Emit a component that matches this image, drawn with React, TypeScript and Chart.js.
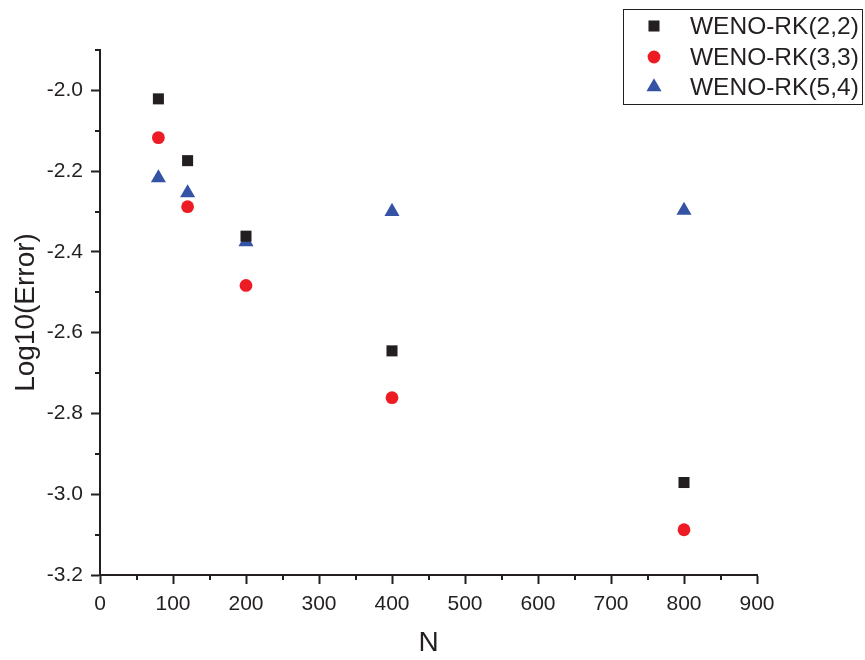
import React, { useEffect, useRef } from "react";
import { Chart, registerables } from "chart.js";

Chart.register(...registerables);

const xValues = [80, 120, 200, 400, 800];
const seriesLabels = ["WENO-RK(2,2)", "WENO-RK(3,3)", "WENO-RK(5,4)"];
const rk22 = [-2.021, -2.174, -2.361, -2.645, -2.971];
const rk33 = [-2.117, -2.288, -2.483, -2.761, -3.088];
const rk54 = [-2.217, -2.254, -2.375, -2.300, -2.297];
const xTickStep = 100;
const yTickStep = 0.2;
const xRange = [0, 900];
const yRange = [-3.2, -1.9];
const xTitle = "N";
const yTitle = "Log10(Error)";

const INK = "#231f20";
const FONT = "'Liberation Sans', Arial, Helvetica, sans-serif";

const colors = ["#231f20", "#ed1c24", "#3553a5"];
const styles = ["rect", "circle", "triangle"];
const radii = [7.8, 6.4, 8.7];

function drawMarker(ctx: CanvasRenderingContext2D, style: string, x: number, y: number, r: number, color: string) {
  ctx.save();
  ctx.fillStyle = color;
  ctx.beginPath();
  if (style === "rect") {
    const s = Math.SQRT1_2 * r;
    ctx.rect(x - s, y - s, 2 * s, 2 * s);
  } else if (style === "circle") {
    ctx.arc(x, y, r, 0, Math.PI * 2);
  } else {
    let rad = 0;
    ctx.moveTo(x + Math.sin(rad) * r, y - Math.cos(rad) * r);
    rad += (2 * Math.PI) / 3;
    ctx.lineTo(x + Math.sin(rad) * r, y - Math.cos(rad) * r);
    rad += (2 * Math.PI) / 3;
    ctx.lineTo(x + Math.sin(rad) * r, y - Math.cos(rad) * r);
    ctx.closePath();
  }
  ctx.fill();
  ctx.restore();
}

const minorTicks = {
  id: "minorTicks",
  afterDraw(chart: any) {
    const ctx = chart.ctx as CanvasRenderingContext2D;
    const xs = chart.scales.x;
    const ys = chart.scales.y;
    ctx.save();
    ctx.strokeStyle = INK;
    ctx.lineWidth = 2;
    ctx.beginPath();
    for (let v = xRange[0] + xTickStep / 2; v <= xRange[1] + 1e-9; v += xTickStep) {
      const px = Math.round(xs.getPixelForValue(v));
      ctx.moveTo(px, xs.top);
      ctx.lineTo(px, xs.top + 5);
    }
    for (let k = 0; ; k++) {
      const v = yRange[0] + yTickStep / 2 + k * yTickStep;
      if (v > yRange[1] + 1e-9) break;
      const py = Math.round(ys.getPixelForValue(v));
      ctx.moveTo(ys.right, py);
      ctx.lineTo(ys.right - 5, py);
    }
    ctx.stroke();
    ctx.restore();
  },
};

const boxLegend = {
  id: "boxLegend",
  afterDraw(chart: any) {
    const ctx = chart.ctx as CanvasRenderingContext2D;
    ctx.save();
    ctx.strokeStyle = INK;
    ctx.lineWidth = 1;
    ctx.strokeRect(623.5, 9.5, 239, 95);
    ctx.font = `24.5px ${FONT}`;
    ctx.textBaseline = "middle";
    ctx.textAlign = "left";
    ctx.fillStyle = INK;
    const rows = [26, 57, 87];
    chart.data.datasets.forEach((ds: any, i: number) => {
      drawMarker(ctx, ds.pointStyle, 654, rows[i], ds.pointRadius, ds.backgroundColor);
      ctx.fillStyle = INK;
      ctx.fillText(ds.label, 690, rows[i] + 1);
    });
    ctx.restore();
  },
};

export default function App() {
  const ref = useRef<HTMLCanvasElement>(null);
  useEffect(() => {
    if (!ref.current) return;
    const series = [rk22, rk33, rk54];
    const chart = new Chart(ref.current, {
      type: "scatter",
      data: {
        datasets: series.map((vals, i) => ({
          label: seriesLabels[i],
          data: xValues.map((x, j) => ({ x, y: vals[j] })),
          pointStyle: styles[i] as any,
          pointRadius: radii[i],
          pointHoverRadius: radii[i],
          pointBorderWidth: 0,
          backgroundColor: colors[i],
          borderColor: colors[i],
          showLine: false,
        })),
      },
      options: {
        responsive: false,
        animation: false,
        events: [],
        layout: { padding: { top: 50, right: 108, left: 0, bottom: 0 } },
        plugins: {
          legend: { display: false },
          tooltip: { enabled: false },
        },
        scales: {
          x: {
            type: "linear",
            min: xRange[0],
            max: xRange[1],
            afterFit: (s: any) => {
              s.height = 85;
            },
            ticks: {
              stepSize: xTickStep,
              includeBounds: false,
              color: INK,
              padding: 8,
              font: { family: FONT, size: 21 },
              maxRotation: 0,
            },
            grid: {
              drawOnChartArea: false,
              drawTicks: true,
              tickLength: 9,
              tickColor: INK,
              tickWidth: 2,
            },
            border: { display: true, color: INK, width: 2 },
            title: {
              display: true,
              text: xTitle,
              color: INK,
              font: { family: FONT, size: 28 },
              padding: { top: 0, bottom: 0 },
            },
          },
          y: {
            type: "linear",
            min: yRange[0],
            max: yRange[1],
            afterFit: (s: any) => {
              s.width = 100;
            },
            ticks: {
              stepSize: yTickStep,
              includeBounds: false,
              color: INK,
              padding: 8,
              font: { family: FONT, size: 21 },
              callback: (v: any) => Number(v).toFixed(1),
            },
            grid: {
              drawOnChartArea: false,
              drawTicks: true,
              tickLength: 9,
              tickColor: INK,
              tickWidth: 2,
            },
            border: { display: true, color: INK, width: 2 },
            title: {
              display: true,
              text: yTitle,
              color: INK,
              font: { family: FONT, size: 28 },
              padding: { top: 9, bottom: 0 },
            },
          },
        },
      },
      plugins: [minorTicks, boxLegend],
    });
    return () => chart.destroy();
  }, []);
  return (
    <div style={{ position: "absolute", left: 0, top: 0, width: 865, height: 660, background: "#fff" }}>
      <canvas ref={ref} width={865} height={660} style={{ display: "block" }} />
    </div>
  );
}
